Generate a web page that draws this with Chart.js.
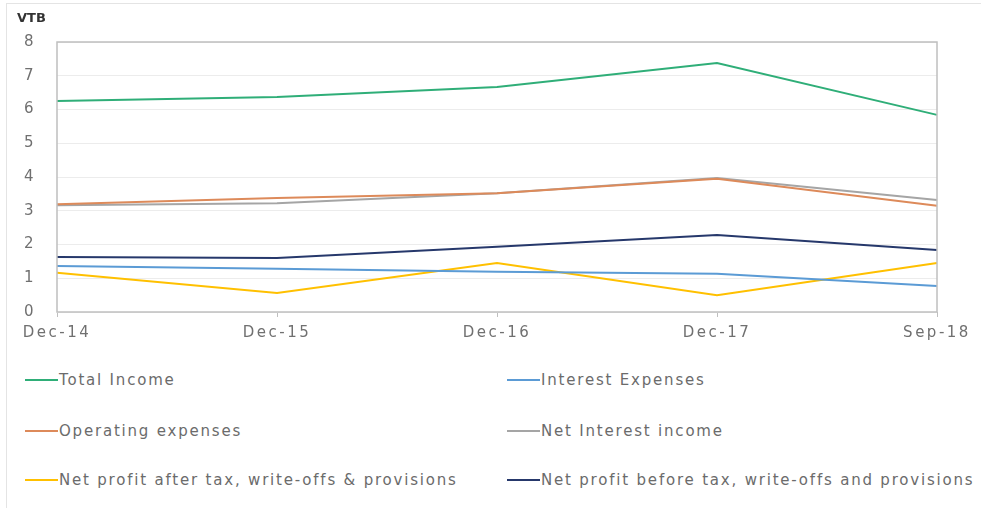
<!DOCTYPE html>
<html>
<head>
<meta charset="utf-8">
<script src="https://cdn.jsdelivr.net/npm/chart.js@4"></script>
<style>
  html, body { margin: 0; padding: 0; background: #fff; }
  body { width: 981px; height: 508px; position: relative; overflow: hidden; font-family: "DejaVu Sans", sans-serif; }
  .frame { position: absolute; left: 6px; top: 3px; right: 0; bottom: 0; border-left: 1px solid #e4e4e4; border-top: 1px solid #e4e4e4; }
  #wrap { position: absolute; left: 0; top: 0; width: 981px; height: 350px; }
  .legend { position: absolute; left: 0; top: 0; width: 981px; }
  .item { position: absolute; display: flex; align-items: center; font-size: 15px; letter-spacing: 1.8px; color: #6b6b6b; white-space: nowrap; }
  .item i { display: inline-block; width: 33px; height: 2px; margin-right: 1px; }
</style>
</head>
<body>
<div class="frame"></div>
<div id="wrap"><canvas id="vtbChart"></canvas></div>
<div class="legend" id="legend"></div>
<script>
// VTB figures, Dec-14 .. Sep-18
const periods = ['Dec-14', 'Dec-15', 'Dec-16', 'Dec-17', 'Sep-18'];
const yTicks = [0, 1, 2, 3, 4, 5, 6, 7, 8];

const totalIncome       = [6.25, 6.37, 6.67, 7.38, 5.84];
const interestExpenses  = [1.36, 1.28, 1.19, 1.13, 0.77];
const operatingExpenses = [3.19, 3.38, 3.52, 3.95, 3.15];
const netInterestIncome = [3.16, 3.22, 3.52, 3.97, 3.32];
const profitAfterTax    = [1.16, 0.56, 1.45, 0.50, 1.45];
const profitBeforeTax   = [1.63, 1.60, 1.93, 2.28, 1.84];

const series = [
  { label: 'Total Income', data: totalIncome, color: '#2fae78' },
  { label: 'Interest Expenses', data: interestExpenses, color: '#5b9bd5' },
  { label: 'Operating expenses', data: operatingExpenses, color: '#dd8a5a' },
  { label: 'Net Interest income', data: netInterestIncome, color: '#a5a5a5' },
  { label: 'Net profit after tax, write-offs & provisions', data: profitAfterTax, color: '#ffc000' },
  { label: 'Net profit before tax, write-offs and provisions', data: profitBeforeTax, color: '#26386b' }
];

// axis title and box around the plot
const frameBox = {
  id: 'frameBox',
  beforeDraw(chart) {
    chart.ctx.letterSpacing = '2.5px';
  },
  afterDraw(chart) {
    const { ctx, chartArea: a } = chart;
    ctx.save();
    ctx.strokeStyle = '#bfbfbf';
    ctx.lineWidth = 1.5;
    ctx.strokeRect(a.left, a.top, a.right - a.left, a.bottom - a.top);
    ctx.letterSpacing = '0px';
    ctx.fillStyle = '#333';
    ctx.font = 'bold 13px "DejaVu Sans"';
    ctx.textBaseline = 'middle';
    ctx.fillText('VTB', 17, 19);
    ctx.restore();
  }
};

new Chart(document.getElementById('vtbChart'), {
  type: 'line',
  data: {
    labels: periods,
    datasets: series.map(s => ({
      label: s.label,
      data: s.data,
      borderColor: s.color,
      backgroundColor: s.color,
      borderWidth: 2,
      pointRadius: 0,
      tension: 0
    }))
  },
  options: {
    responsive: true,
    maintainAspectRatio: false,
    animation: false,
    layout: { padding: { top: 42, right: 44, left: 0, bottom: 0 } },
    plugins: {
      legend: { display: false },
      tooltip: { enabled: false }
    },
    scales: {
      x: {
        offset: false,
        grid: { drawOnChartArea: false, drawTicks: true, tickLength: 5, color: '#bfbfbf' },
        border: { display: false },
        ticks: { color: '#707070', font: { family: 'DejaVu Sans', size: 15 }, padding: 7, maxRotation: 0, autoSkip: false },
        afterFit: scale => { scale.height = 38; }
      },
      y: {
        min: 0,
        max: 8,
        afterBuildTicks: scale => { scale.ticks = yTicks.map(v => ({ value: v })); },
        grid: { color: '#ececec', drawTicks: false },
        border: { display: false },
        ticks: { color: '#707070', font: { family: 'DejaVu Sans', size: 15 }, padding: 21 },
        afterFit: scale => { scale.width = 57; }
      }
    }
  },
  plugins: [frameBox]
});

// two-column legend under the plot
const legendPos = [
  [25, 381], [507, 381],
  [25, 432], [507, 432],
  [25, 481], [507, 481]
];
const legend = document.getElementById('legend');
series.forEach((s, i) => {
  const el = document.createElement('div');
  el.className = 'item';
  el.style.left = legendPos[i][0] + 'px';
  el.style.top = (legendPos[i][1] - 10) + 'px';
  el.innerHTML = '<i style="background:' + s.color + '"></i>';
  el.appendChild(document.createTextNode(s.label));
  legend.appendChild(el);
});
</script>
</body>
</html>
